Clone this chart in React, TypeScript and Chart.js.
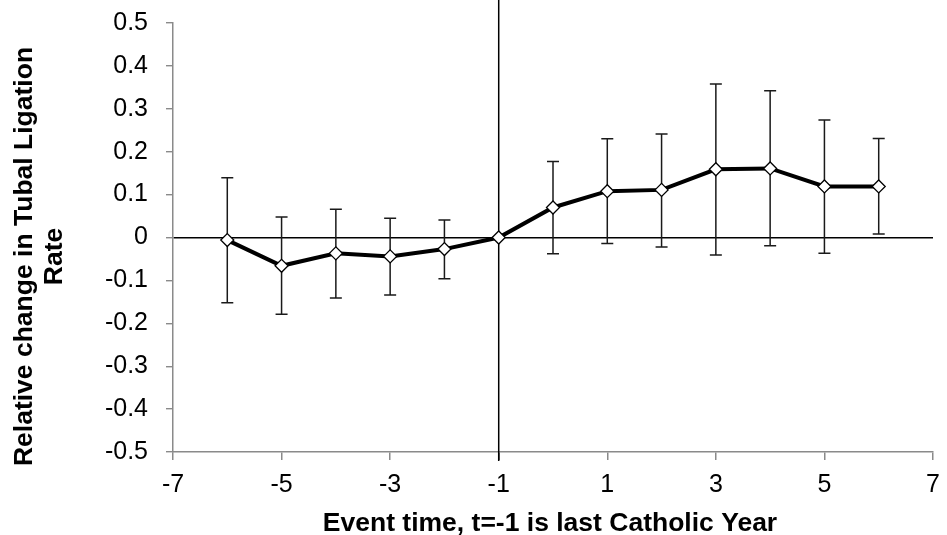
import React, { useEffect, useRef } from "react";
import { Chart, registerables } from "chart.js";

Chart.register(...registerables);

const eventTime = [-6, -5, -4, -3, -2, -1, 0, 1, 2, 3, 4, 5, 6];
const estimate = [-0.006, -0.066, -0.037, -0.044, -0.027, 0, 0.07, 0.108, 0.111, 0.159, 0.161, 0.119, 0.119];
const upperCI = [0.139, 0.048, 0.066, 0.045, 0.041, null, 0.177, 0.23, 0.241, 0.358, 0.342, 0.274, 0.231];
const lowerCI = [-0.152, -0.179, -0.141, -0.134, -0.096, null, -0.038, -0.014, -0.022, -0.041, -0.019, -0.037, 0.008];
const yTitleLines = ["Relative change in Tubal Ligation", "Rate"];
const xTitle = "Event time, t=-1 is last Catholic Year";
const xMin = -7, xMax = 7, xStep = 2;
const yMin = -0.5, yMax = 0.5, yStep = 0.1;
const referenceX = -1;
const referenceY = 0;

const FONT = "'Liberation Sans', Arial, sans-serif";
const AXIS_GRAY = "#8a8a8a";

const errorBarPlugin = {
  id: "errorBars",
  beforeDatasetsDraw(chart: any) {
    const xs = chart.scales.x;
    const ys = chart.scales.y;
    const area = chart.chartArea;
    const ctx = chart.ctx;
    ctx.save();
    // vertical reference line at t = -1
    const rx = xs.getPixelForValue(referenceX);
    ctx.strokeStyle = "#000";
    ctx.lineWidth = 1.5;
    ctx.beginPath();
    ctx.moveTo(rx, 0);
    ctx.lineTo(rx, area.bottom + 9);
    ctx.stroke();

    ctx.strokeStyle = "#1a1a1a";
    ctx.lineWidth = 1.5;
    for (let i = 0; i < eventTime.length; i++) {
      const hi = upperCI[i];
      const lo = lowerCI[i];
      if (hi == null || lo == null) continue;
      const x = xs.getPixelForValue(eventTime[i]);
      const yh = ys.getPixelForValue(hi);
      const yl = ys.getPixelForValue(lo);
      ctx.beginPath();
      ctx.moveTo(x, yh);
      ctx.lineTo(x, yl);
      ctx.moveTo(x - 6, yh);
      ctx.lineTo(x + 6, yh);
      ctx.moveTo(x - 6, yl);
      ctx.lineTo(x + 6, yl);
      ctx.stroke();
    }
    ctx.restore();
  },
};

const titlePlugin = {
  id: "axisTitles",
  afterDraw(chart: any) {
    const ctx = chart.ctx;
    const area = chart.chartArea;
    ctx.save();
    ctx.fillStyle = "#000";
    ctx.font = `bold 26.5px ${FONT}`;
    ctx.textAlign = "center";
    ctx.textBaseline = "alphabetic";
    const cy = (area.top + area.bottom) / 2 + 19;
    const baselines = [32, 62];
    yTitleLines.forEach((line, i) => {
      ctx.save();
      ctx.translate(baselines[i], cy);
      ctx.rotate(-Math.PI / 2);
      ctx.fillText(line, 0, 0);
      ctx.restore();
    });
    ctx.fillText(xTitle, (area.left + area.right) / 2 - 3, 531);
    ctx.restore();
  },
};

export default function App() {
  const ref = useRef<HTMLCanvasElement | null>(null);
  useEffect(() => {
    if (!ref.current) return;
    const chart = new Chart(ref.current, {
      type: "line",
      data: {
        datasets: [
          {
            data: eventTime.map((t, i) => ({ x: t, y: estimate[i] })),
            borderColor: "#000",
            borderWidth: 4,
            tension: 0,
            pointStyle: "rectRot",
            pointRadius: 6.5,
            pointHoverRadius: 6.5,
            pointBackgroundColor: "#fff",
            pointBorderColor: "#000",
            pointBorderWidth: 1.3,
          },
        ],
      },
      options: {
        animation: false,
        responsive: false,
        layout: { padding: { top: 23, right: 14, left: 0, bottom: 0 } },
        plugins: { legend: { display: false }, tooltip: { enabled: false }, title: { display: false } },
        scales: {
          x: {
            type: "linear",
            min: xMin,
            max: xMax,
            afterFit: (s: any) => {
              s.height = 83;
              s.paddingLeft = 0;
              s.paddingRight = 0;
            },
            afterBuildTicks: (s: any) => {
              const t = [];
              for (let v = xMin; v <= xMax + 1e-9; v += xStep) t.push({ value: v });
              s.ticks = t;
            },
            ticks: {
              color: "#000",
              font: { family: FONT, size: 25 },
              padding: 10,
              maxRotation: 0,
              autoSkip: false,
              callback: (v: any) => String(v),
            },
            grid: {
              drawOnChartArea: false,
              drawTicks: true,
              tickLength: 8,
              lineWidth: 1.5,
              tickColor: (c: any) => (c.tick && c.tick.value === referenceX ? "#000" : AXIS_GRAY),
            },
            border: { display: true, color: AXIS_GRAY, width: 1.5 },
          },
          y: {
            type: "linear",
            min: yMin,
            max: yMax,
            afterFit: (s: any) => {
              s.width = 173;
              s.paddingTop = 0;
              s.paddingBottom = 0;
            },
            ticks: {
              stepSize: yStep,
              color: "#000",
              font: { family: FONT, size: 25 },
              padding: 18,
              callback: (v: any) => {
                const n = Number(Number(v).toFixed(1));
                return n === 0 ? "0" : String(n);
              },
            },
            grid: {
              drawOnChartArea: true,
              drawTicks: true,
              tickLength: 7,
              lineWidth: 1.4,
              color: (c: any) => (c.tick && Math.abs(c.tick.value - referenceY) < 1e-9 ? "#000" : "rgba(0,0,0,0)"),
              tickColor: AXIS_GRAY,
            },
            border: { display: true, color: AXIS_GRAY, width: 1.5 },
          },
        },
      },
      plugins: [errorBarPlugin, titlePlugin],
    });
    return () => chart.destroy();
  }, []);
  return (
    <div style={{ position: "absolute", left: 0, top: 0, width: 947, height: 535, background: "#fff" }}>
      <canvas ref={ref} width={947} height={535} style={{ display: "block" }} />
    </div>
  );
}
